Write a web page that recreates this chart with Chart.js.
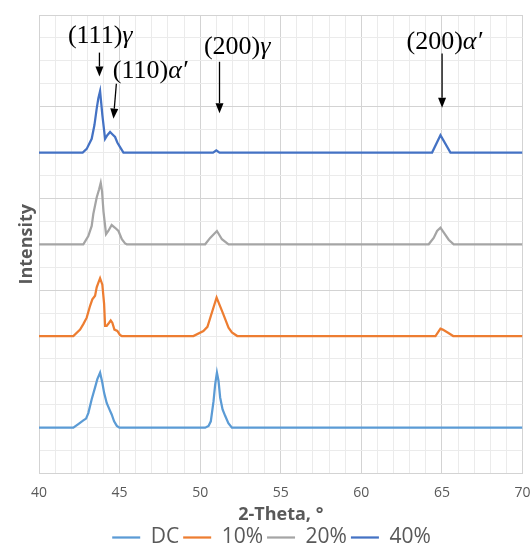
<!DOCTYPE html>
<html>
<head>
<meta charset="utf-8">
<script src="https://cdn.jsdelivr.net/npm/chart.js@4/dist/chart.umd.min.js"></script>
<style>
  html, body { margin: 0; padding: 0; background: #fff; }
</style>
</head>
<body>
<canvas id="xrd" width="532" height="548"></canvas>
<script>
// 2-theta positions (deg) and intensities for each sample, baseline = 0
const dcTheta = [40, 42.13, 42.44, 42.75, 42.92, 43.06, 43.27, 43.48, 43.62, 43.79, 43.93, 44.04, 44.2, 44.37, 44.51, 44.66, 44.83, 44.99, 50.31, 50.52, 50.66, 50.83, 50.93, 51.04, 51.14, 51.24, 51.39, 51.55, 51.75, 51.97, 70];
const dcIntensity = [0, 0, 0.04, 0.08, 0.10, 0.16, 0.31, 0.44, 0.53, 0.60, 0.49, 0.38, 0.27, 0.20, 0.145, 0.07, 0.02, 0, 0, 0.02, 0.07, 0.29, 0.47, 0.60, 0.51, 0.33, 0.20, 0.13, 0.05, 0, 0];

const p10Theta = [40, 42.13, 42.55, 42.75, 42.96, 43.17, 43.31, 43.48, 43.58, 43.68, 43.79, 43.93, 44.04, 44.1, 44.2, 44.35, 44.45, 44.55, 44.68, 44.86, 45.03, 45.14, 49.58, 50.2, 50.45, 51.02, 51.41, 51.76, 51.97, 52.3, 64.6, 64.91, 65.05, 65.38, 65.7, 70];
const p10Intensity = [0, 0, 0.07, 0.13, 0.2, 0.33, 0.4, 0.44, 0.53, 0.58, 0.63, 0.56, 0.35, 0.11, 0.11, 0.145, 0.17, 0.145, 0.07, 0.055, 0.01, 0, 0, 0.055, 0.1, 0.42, 0.25, 0.09, 0.04, 0, 0, 0.08, 0.07, 0.035, 0, 0];

const p20Theta = [40, 42.75, 43.06, 43.27, 43.37, 43.58, 43.73, 43.83, 43.91, 44.0, 44.16, 44.3, 44.51, 44.72, 44.93, 45.14, 45.34, 45.45, 50.31, 50.62, 51.04, 51.35, 51.76, 64.18, 64.49, 64.7, 64.91, 65.11, 65.42, 65.73, 70];
const p20Intensity = [0, 0, 0.09, 0.2, 0.33, 0.51, 0.6, 0.67, 0.58, 0.36, 0.11, 0.145, 0.21, 0.18, 0.145, 0.055, 0.01, 0, 0, 0.07, 0.145, 0.055, 0, 0, 0.07, 0.145, 0.18, 0.13, 0.05, 0, 0];

const p40Theta = [40, 42.71, 42.96, 43.27, 43.44, 43.58, 43.68, 43.79, 43.93, 44.1, 44.24, 44.41, 44.55, 44.72, 44.86, 45.03, 45.24, 50.8, 51.0, 51.2, 64.39, 64.91, 65.53, 70];
const p40Intensity = [0, 0, 0.04, 0.15, 0.3, 0.48, 0.59, 0.67, 0.41, 0.15, 0.19, 0.225, 0.2, 0.17, 0.11, 0.06, 0, 0, 0.025, 0, 0, 0.19, 0, 0];

const sampleNames = ['DC', '10%', '20%', '40%'];
const sampleOffsets = [0.5, 1.5, 2.5, 3.5]; // vertical stacking of the patterns
const sampleColors = ['#5b9bd5', '#ed7d31', '#a5a5a5', '#4472c4'];

// reflections marked above the top pattern (x, y in axis units)
const peakMarks = [
  { hkl: '(111)', phase: 'γ',  textX: 43.8,  textY: 4.7,  from: [43.75, 4.59], to: [43.75, 4.33] },
  { hkl: '(110)', phase: 'α′', textX: 46.9,  textY: 4.31, from: [44.8, 4.25],  to: [44.62, 3.87] },
  { hkl: '(200)', phase: 'γ',  textX: 52.3,  textY: 4.58, from: [51.2, 4.49],  to: [51.2, 3.93] },
  { hkl: '(200)', phase: 'α′', textX: 65.15, textY: 4.63, from: [65.01, 4.58], to: [65.01, 3.99] }
];

const thetas = [dcTheta, p10Theta, p20Theta, p40Theta];
const intensities = [dcIntensity, p10Intensity, p20Intensity, p40Intensity];

const datasets = sampleNames.map((name, i) => ({
  label: name,
  data: thetas[i].map((t, j) => ({ x: t, y: intensities[i][j] + sampleOffsets[i] })),
  borderColor: sampleColors[i],
  backgroundColor: sampleColors[i],
  borderWidth: 2.25,
  pointRadius: 0,
  tension: 0
}));

function drawArrow(ctx, x1, y1, x2, y2) {
  const ang = Math.atan2(y2 - y1, x2 - x1);
  const head = 10, half = 4;
  const bx = x2 - head * Math.cos(ang), by = y2 - head * Math.sin(ang);
  ctx.beginPath();
  ctx.moveTo(x1, y1);
  ctx.lineTo(bx, by);
  ctx.stroke();
  ctx.beginPath();
  ctx.moveTo(x2, y2);
  ctx.lineTo(bx + half * Math.sin(ang), by - half * Math.cos(ang));
  ctx.lineTo(bx - half * Math.sin(ang), by + half * Math.cos(ang));
  ctx.closePath();
  ctx.fill();
}

const peakLabelPlugin = {
  id: 'peakLabels',
  afterDatasetsDraw(chart) {
    const { ctx, scales: { x, y } } = chart;
    ctx.save();
    ctx.fillStyle = '#000';
    ctx.strokeStyle = '#000';
    ctx.lineWidth = 1.3;
    ctx.textBaseline = 'alphabetic';
    ctx.textAlign = 'left';
    peakMarks.forEach(m => {
      const upright = '26px "Liberation Serif"';
      const slanted = 'italic 26px "Liberation Serif"';
      ctx.font = upright;
      const w1 = ctx.measureText(m.hkl).width;
      ctx.font = slanted;
      const w2 = ctx.measureText(m.phase).width;
      const left = x.getPixelForValue(m.textX) - (w1 + w2) / 2;
      const base = y.getPixelForValue(m.textY);
      ctx.font = upright;
      ctx.fillText(m.hkl, left, base);
      ctx.font = slanted;
      ctx.fillText(m.phase, left + w1, base);
      drawArrow(ctx,
        x.getPixelForValue(m.from[0]), y.getPixelForValue(m.from[1]),
        x.getPixelForValue(m.to[0]), y.getPixelForValue(m.to[1]));
    });
    ctx.restore();
  }
};

const majorGrid = '#d3d3d3';
const minorGrid = '#ebebeb';

new Chart(document.getElementById('xrd'), {
  type: 'line',
  data: { datasets },
  plugins: [peakLabelPlugin],
  options: {
    responsive: false,
    animation: false,
    layout: { padding: { left: 12, right: 1, top: 15, bottom: 0 } },
    plugins: {
      tooltip: { enabled: false },
      legend: {
        position: 'bottom',
        maxHeight: 25,
        labels: {
          usePointStyle: true,
          pointStyle: 'line',
          pointStyleWidth: 28,
          padding: 4,
          color: '#595959',
          font: { family: 'Open Sans', size: 21 }
        }
      }
    },
    scales: {
      x: {
        type: 'linear',
        min: 40,
        max: 70,
        grid: {
          // tick marks only reserve room under the plot, they stay invisible
          tickLength: 10,
          tickColor: 'rgba(0,0,0,0)',
          color: c => (c.tick && c.tick.value % 5 === 0 ? majorGrid : minorGrid)
        },
        border: { color: majorGrid },
        ticks: {
          stepSize: 1,
          autoSkip: false,
          maxRotation: 0,
          padding: 1.5,
          color: '#595959',
          font: { family: 'Open Sans', size: 14 },
          callback: v => (v % 5 === 0 ? v : '')
        },
        title: {
          display: true,
          text: '2-Theta, °',
          color: '#595959',
          font: { family: 'Open Sans', size: 18, weight: 'bold' },
          padding: { top: 1, bottom: -3 }
        }
      },
      y: {
        min: 0,
        max: 5,
        grid: {
          drawTicks: false,
          color: c => (c.tick && Number.isInteger(c.tick.value) ? majorGrid : minorGrid)
        },
        border: { color: majorGrid },
        ticks: { display: false, stepSize: 0.25 },
        title: {
          display: true,
          text: 'Intensity',
          color: '#595959',
          font: { family: 'Open Sans', size: 18, weight: 'bold' },
          padding: { top: 4, bottom: 1.4 }
        }
      }
    }
  }
});
</script>
</body>
</html>
